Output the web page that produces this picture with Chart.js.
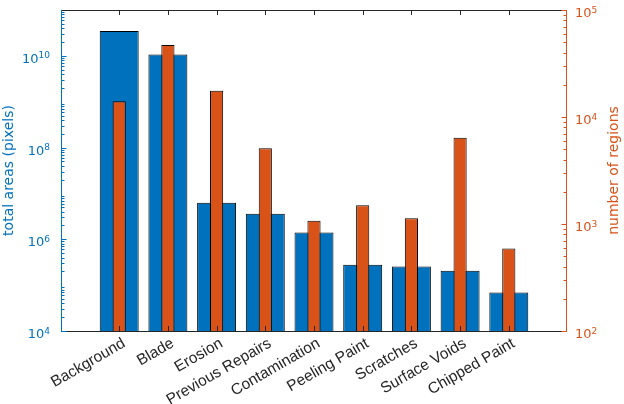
<!DOCTYPE html>
<html>
<head>
<meta charset="utf-8">
<script src="https://cdn.jsdelivr.net/npm/chart.js@4/dist/chart.umd.min.js"></script>
<style>
  html, body { margin: 0; padding: 0; background: #ffffff; }
  #c { display: block; }
</style>
</head>
<body>
<canvas id="c" width="624" height="404"></canvas>
<script>
// ---- data ----
const categories = ['Background', 'Blade', 'Erosion', 'Previous Repairs', 'Contamination',
                    'Peeling Paint', 'Scratches', 'Surface Voids', 'Chipped Paint'];
const totalAreas = [3.5e10, 1.07e10, 6.3e6, 3.6e6, 1.4e6, 2.8e5, 2.55e5, 2.05e5, 6.9e4];
const numRegions = [1.4e4, 4.7e4, 1.76e4, 5.1e3, 1.07e3, 1.5e3, 1.13e3, 6.4e3, 5.9e2];
const leftTickExps = [4, 6, 8, 10];
const rightTickExps = [2, 3, 4, 5];
const leftTitle = 'total areas (pixels)';
const rightTitle = 'number of regions';

const BLUE = '#0072BD';
const ORANGE = '#D95319';
const DARK = '#262626';
const FONT = '"DejaVu Sans", "Liberation Sans", Arial, sans-serif';
const XFONT = '"Liberation Sans", Arial, Helvetica, sans-serif';

function minorValues(exps) {
  const out = [];
  const lo = Math.min(...exps), hi = Math.max(...exps);
  for (let k = lo; k < hi; k++) {
    for (let m = 1; m <= 9; m++) {
      if (m === 1 && exps.includes(k)) continue;
      out.push(m * Math.pow(10, k));
    }
  }
  return out;
}
function fillRange(exps) {
  const r = [];
  for (let k = Math.min(...exps); k <= Math.max(...exps); k++) r.push(k);
  return r;
}

const axesPlugin = {
  id: 'matlabAxes',
  afterDatasetsDraw(chart) {
    const ctx = chart.ctx;
    const a = chart.chartArea;
    const xs = chart.scales.x, yl = chart.scales.y, yr = chart.scales.y1;
    ctx.save();
    ctx.lineWidth = 1;

    // x ticks (inward, bottom and top)
    ctx.strokeStyle = DARK;
    categories.forEach((c, i) => {
      const px = Math.round(xs.getPixelForValue(i + 1)) + 0.5;
      ctx.beginPath();
      ctx.moveTo(px, a.bottom); ctx.lineTo(px, a.bottom - 5);
      ctx.moveTo(px, a.top); ctx.lineTo(px, a.top + 5);
      ctx.stroke();
    });

    // box: top & bottom
    ctx.strokeStyle = DARK;
    ctx.beginPath();
    ctx.moveTo(a.left, a.top + 0.5); ctx.lineTo(a.right, a.top + 0.5);
    ctx.moveTo(a.left, a.bottom + 0.5); ctx.lineTo(a.right, a.bottom + 0.5);
    ctx.stroke();

    // left axis
    const lx = a.left + 0.5;
    ctx.strokeStyle = BLUE;
    ctx.beginPath(); ctx.moveTo(lx, a.top); ctx.lineTo(lx, a.bottom + 1); ctx.stroke();
    minorValues(fillRange(leftTickExps).concat([11])).forEach(v => {
      if (v > yl.max) return;
      const py = Math.round(yl.getPixelForValue(v)) + 0.5;
      ctx.beginPath(); ctx.moveTo(lx, py); ctx.lineTo(lx + 3, py); ctx.stroke();
    });
    leftTickExps.forEach(e => {
      const py = Math.round(yl.getPixelForValue(Math.pow(10, e))) + 0.5;
      ctx.beginPath(); ctx.moveTo(lx, py); ctx.lineTo(lx + 5, py); ctx.stroke();
    });

    // right axis
    const rx = a.right - 0.5;
    ctx.strokeStyle = ORANGE;
    ctx.beginPath(); ctx.moveTo(rx, a.top); ctx.lineTo(rx, a.bottom + 1); ctx.stroke();
    minorValues(fillRange(rightTickExps)).forEach(v => {
      const py = Math.round(yr.getPixelForValue(v)) + 0.5;
      ctx.beginPath(); ctx.moveTo(rx, py); ctx.lineTo(rx - 3, py); ctx.stroke();
    });
    rightTickExps.forEach(e => {
      const py = Math.round(yr.getPixelForValue(Math.pow(10, e))) + 0.5;
      ctx.beginPath(); ctx.moveTo(rx, py); ctx.lineTo(rx - 5, py); ctx.stroke();
    });

    // tick labels with superscripts
    const base = '13px ' + FONT, sup = '9px ' + FONT;
    ctx.textBaseline = 'alphabetic';
    ctx.fillStyle = BLUE;
    leftTickExps.forEach(e => {
      const py = yl.getPixelForValue(Math.pow(10, e));
      const es = String(e);
      ctx.font = sup; const ew = ctx.measureText(es).width;
      ctx.textAlign = 'right';
      ctx.fillText(es, a.left - 11, py + 2.5);
      ctx.font = base;
      ctx.fillText('10', a.left - 11 - ew, py + 7);
    });
    ctx.fillStyle = ORANGE;
    rightTickExps.forEach(e => {
      const py = yr.getPixelForValue(Math.pow(10, e));
      ctx.font = base; ctx.textAlign = 'left';
      const bw = ctx.measureText('10').width;
      ctx.fillText('10', a.right + 8, py + 7);
      ctx.font = sup;
      ctx.fillText(String(e), a.right + 8 + bw, py + 2.5);
    });

    // x labels rotated
    ctx.fillStyle = DARK;
    ctx.font = '15.5px ' + XFONT;
    ctx.textAlign = 'right';
    ctx.textBaseline = 'alphabetic';
    categories.forEach((c, i) => {
      const px = xs.getPixelForValue(i + 1);
      ctx.save();
      ctx.translate(px + 7, a.bottom + 15);
      ctx.rotate(-30 * Math.PI / 180);
      ctx.fillText(c, 0, 0);
      ctx.restore();
    });

    // axis titles
    ctx.font = '14px ' + FONT;
    ctx.textAlign = 'center';
    ctx.textBaseline = 'alphabetic';
    const cy = (a.top + a.bottom) / 2;
    ctx.fillStyle = BLUE;
    ctx.save(); ctx.translate(13, cy); ctx.rotate(-Math.PI / 2); ctx.fillText(leftTitle, 0, 0); ctx.restore();
    ctx.fillStyle = ORANGE;
    ctx.save(); ctx.translate(618, cy); ctx.rotate(-Math.PI / 2); ctx.fillText(rightTitle, 0, 0); ctx.restore();

    ctx.restore();
  }
};

new Chart(document.getElementById('c'), {
  type: 'bar',
  data: {
    datasets: [
      {
        label: rightTitle,
        data: numRegions.map((v, i) => ({ x: i + 1, y: v })),
        yAxisID: 'y1',
        backgroundColor: ORANGE,
        borderColor: '#000000',
        borderWidth: 1,
        grouped: false,
        barPercentage: 0.27,
        categoryPercentage: 1,
        order: 0
      },
      {
        label: leftTitle,
        data: totalAreas.map((v, i) => ({ x: i + 1, y: v })),
        yAxisID: 'y',
        backgroundColor: BLUE,
        borderColor: '#000000',
        borderWidth: 1,
        grouped: false,
        barPercentage: 0.8,
        categoryPercentage: 1,
        order: 1
      }
    ]
  },
  options: {
    responsive: false,
    animation: false,
    devicePixelRatio: 1,
    layout: { padding: { left: 61, right: 57, top: 10, bottom: 73 } },
    plugins: { legend: { display: false }, tooltip: { enabled: false } },
    scales: {
      x: {
        type: 'linear', min: -0.195, max: 10.195, offset: false, display: false,
        afterBuildTicks: s => { s.ticks = categories.map((c, i) => ({ value: i + 1 })); }
      },
      y: { type: 'logarithmic', position: 'left', min: 1e4, max: 1e11, display: false },
      y1: { type: 'logarithmic', position: 'right', min: 1e2, max: 1e5, display: false }
    }
  },
  plugins: [axesPlugin]
});
</script>
</body>
</html>
